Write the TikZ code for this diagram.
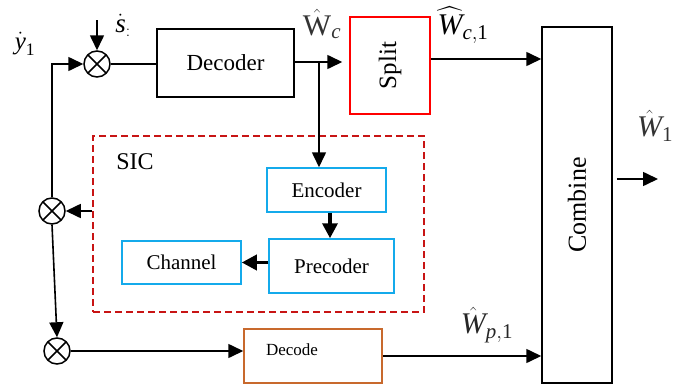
\documentclass[tikz,border=0pt]{standalone}
\usepackage{fontspec}
\usepackage{amsmath}
\setmainfont{Liberation Serif}
\usetikzlibrary{arrows.meta,calc}

\definecolor{sicred}{RGB}{200,20,20}
\definecolor{boxblue}{RGB}{20,170,235}
\definecolor{boxbrown}{RGB}{200,105,45}

\tikzset{
  blockbox/.style={draw, line width=1.5pt, inner sep=0pt, anchor=center},
  mixer/.style={circle, draw, line width=1.5pt, minimum size=26pt, inner sep=0pt,
    path picture={\draw[line width=1.5pt]
      (path picture bounding box.north west) -- (path picture bounding box.south east)
      (path picture bounding box.north east) -- (path picture bounding box.south west);}},
  flow/.style={line width=1.6pt, -{Triangle[length=15pt,width=14pt]}},
  boldflow/.style={line width=3.5pt, -{Triangle[length=15pt,width=15pt]}},
  wire/.style={line width=1.6pt},
  lbl/.style={inner sep=0pt, font=\fontsize{30}{32}\selectfont},
}

\begin{document}
\begin{tikzpicture}[x=1pt,y=-1pt]
\useasboundingbox (0,0) rectangle (696,388);

% processing blocks
\node[blockbox, minimum width=137pt, minimum height=68pt,
      font=\fontsize{23}{26}\selectfont] (dec) at (225.5,63) {Decoder};
\node[blockbox, draw=red, minimum width=80pt, minimum height=97pt,
      font=\fontsize{25}{28}\selectfont] (split) at (390,65.5) {\rotatebox{90}{Split}};
\node[blockbox, minimum width=70pt, minimum height=356pt,
      font=\fontsize{26}{28}\selectfont] (comb) at (577,205) {\rotatebox{90}{Combine}};

% successive interference cancellation stage
\node[blockbox, draw=sicred, dash pattern=on 7pt off 4pt, line width=2pt,
      minimum width=331pt, minimum height=176pt] (sic) at (258.5,224) {};
\node[inner sep=0pt, font=\fontsize{24}{26}\selectfont] (sict) at (135,162) {SIC};
\node[blockbox, draw=boxblue, minimum width=119pt, minimum height=44pt,
      font=\fontsize{21}{24}\selectfont] (enc) at (326.5,190) {Encoder};
\node[blockbox, draw=boxblue, minimum width=125pt, minimum height=54pt,
      font=\fontsize{21}{24}\selectfont] (pre) at (331.5,266) {Precoder};
\node[blockbox, draw=boxblue, minimum width=119pt, minimum height=43pt,
      font=\fontsize{21}{24}\selectfont] (chan) at (181.5,262.5) {Channel};

% private-stream decoder
\node[blockbox, draw=boxbrown, minimum width=138pt, minimum height=54pt,
      label={[xshift=-21pt, yshift=6pt, font=\fontsize{17}{19}\selectfont]center:Decode}]
      (decd) at (313,356) {};

% mixers
\node[mixer] (m1) at (97,64) {};
\node[mixer] (m2) at (52,211) {};
\node[mixer] (m3) at (57,351) {};

% auxiliary points
\coordinate (sin) at (97,20);
\coordinate (tap) at (319,62);
\coordinate (out) at (658,179);
\coordinate (sp) at ($(split.east)+(0,-6.5)$);
\coordinate (eb) at ($(enc.south)+(3.5,0)$);
\coordinate (ob) at ($(comb.east |- out)+(4,0)$);

% connectors
\draw[flow] (sin) -- (m1.north);
\draw[wire] (m1.east) -- (m1 -| dec.west);
\draw[flow] (m2.north) -- (m2.north |- m1) -- (m1.west);
\draw[flow] (sic.west |- m2) -- (m2.east);
\draw[flow] (m2.south) -- (m3.north);
\draw[flow] (m3.east) -- (m3 -| decd.west);
\draw[flow, shorten >=7pt] (dec.east |- tap) -- (split.west |- tap);
\draw[flow] (tap) -- (tap |- enc.north);
\draw[boldflow] (eb) -- (eb |- pre.north);
\draw[boldflow] (pre.west |- chan) -- (chan.east);
\draw[flow] (sp) -- (sp -| comb.west);
\draw[flow] (decd.east) -- (decd.east -| comb.west);
\draw[flow] (ob) -- (out);

% signal labels
\node[lbl, font=\fontsize{25}{27}\selectfont] (ly) at (25,44) {$\dot{\text{\itshape y}}_{\text{1}}$};
\node[lbl, font=\fontsize{27}{29}\selectfont] (ls) at (123,25) {$\dot{\text{\itshape s}}_{:}$};
\node[lbl, text=black!80] (lwc) at (322,24) {$\hat{\mathrm{W}}_{\text{\itshape c}}$};
\node[lbl] (lwc1) at (463,25) {$\widehat{\text{\itshape W}}_{\text{\itshape c},\text{1}}$};
\node[lbl, text=black!80] (lw1) at (655,126) {$\hat{\text{\itshape W}}_{\text{1}}$};
\node[lbl, text=black!85] (lwp1) at (487,325) {$\hat{\text{\itshape W}}_{\text{\itshape p},\text{1}}$};
\end{tikzpicture}
\end{document}
